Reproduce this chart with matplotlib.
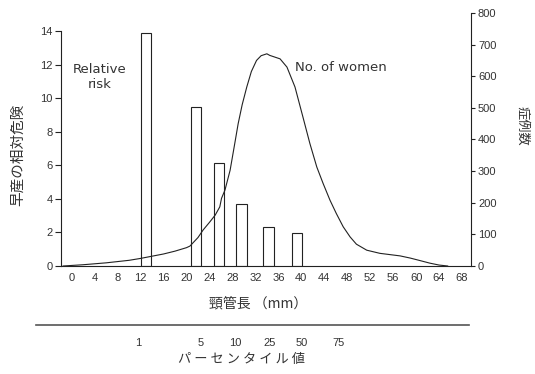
import numpy as np
import matplotlib.pyplot as plt

# relative risk of preterm birth by cervical length (bars)
bar_mm = [12.9, 21.7, 25.7, 29.6, 34.3, 39.3]
bar_risk = [13.9, 9.45, 6.15, 3.67, 2.34, 1.95]
BAR_W = 1.8

# number of women by cervical length (curve)
curve_mm = [-1.5, 2, 6, 10, 12, 16, 18, 20, 20.6, 22, 22.9, 24, 25, 25.8, 26.1,
            26.7, 27.6, 28.5, 29.0, 29.7, 30.5, 31.3, 32.2, 33.0, 34.0, 34.5,
            36.3, 37.5, 38.9, 40.3, 41.5, 42.7, 43.8, 45, 46.1, 47.3, 48.5,
            49.6, 51.4, 53.7, 57.2, 59, 60.5, 62.4, 64, 65.5]
curve_n = [0, 4, 10, 18, 24, 38, 47, 58, 63, 90, 114, 138, 161, 187, 214,
           240, 303, 397, 450, 510, 566, 615, 650, 665, 671, 666,
           655, 629, 566, 470, 387, 313, 261, 208, 166, 124, 92,
           69, 50, 40, 32, 25, 18, 9, 3, 0]

x_ticks = list(range(0, 69, 4))
pct_pos = [11.6, 22.4, 28.5, 34.5, 40.0, 46.4]
pct_labels = ["1", "5", "10", "25", "50", "75"]

INK = "#222222"
TXT = "#333333"
LAT = ["Liberation Sans", "DejaVu Sans"]
JP = ["Noto Sans CJK JP", "DejaVu Sans"]

plt.rcParams["font.family"] = LAT
plt.rcParams["font.size"] = 8

W, H = 535, 374
fig = plt.figure(figsize=(W / 100, H / 100), dpi=100)

# main axes
L, R, B, T = 61, 471, 266, 13
ax = fig.add_axes([L / W, 1 - B / H, (R - L) / W, (B - T) / H])
ax.bar(bar_mm, bar_risk, width=BAR_W, facecolor="white", edgecolor=INK,
       linewidth=0.8, zorder=2)
ax.set_xlim((L - 71.7) / 5.74, (R - 71.7) / 5.74)
ax.set_ylim(0, 14 * (B - T) / (B - 31))
ax.set_xticks(x_ticks)
ax.set_yticks(range(0, 15, 2))
ax.spines["top"].set_visible(False)
ax.spines["right"].set_visible(False)
ax.spines["left"].set_bounds(0, 14)
for s in ("left", "bottom"):
    ax.spines[s].set_color(INK)
    ax.spines[s].set_linewidth(0.8)
ax.tick_params(axis="y", length=4, width=0.8, pad=2, colors=INK, labelcolor=TXT)
ax.tick_params(axis="x", length=0, pad=5, labelcolor=TXT)

fig.text(18 / W, 1 - 155 / H, "早産の相対危険", family=JP, fontsize=10.5,
         color=TXT, rotation=90, ha="center", va="center")

ax.text(4.9, 11.26, "Relative\nrisk", ha="center", va="center", color=TXT,
        family="DejaVu Sans", fontsize=9.5, linespacing=1.25)
ax.text(38.9, 11.8, "No. of women", ha="left", va="center", color=TXT,
        family="DejaVu Sans", fontsize=9.5)

# right axes: number of women
ax2 = ax.twinx()
ax2.plot(curve_mm, curve_n, color=INK, linewidth=0.8, zorder=3)
ax2.set_ylim(0, 800)
ax2.set_yticks(range(0, 801, 100))
for s in ("top", "left", "bottom"):
    ax2.spines[s].set_visible(False)
ax2.spines["right"].set_color(INK)
ax2.spines["right"].set_linewidth(0.8)
ax2.tick_params(axis="y", length=3, width=0.8, pad=2, colors=INK, labelcolor=TXT)

fig.text(522 / W, 1 - 126 / H, "症例数", family=JP, fontsize=9.5,
         color=TXT, rotation=270, ha="center", va="center")

fig.text(258 / W, 1 - 304 / H, "頸管長 （mm）", family=JP, fontsize=10,
         color=TXT, ha="center", va="center")

# percentile scale
PL, PR, PY = 36, 469, 325
axp = fig.add_axes([PL / W, 1 - PY / H, (PR - PL) / W, 0.001])
axp.set_xlim((PL - 71.7) / 5.74, (PR - 71.7) / 5.74)
axp.set_xticks(pct_pos)
axp.set_xticklabels(pct_labels)
axp.set_yticks([])
for s in ("top", "left", "right"):
    axp.spines[s].set_visible(False)
axp.spines["bottom"].set_color("#555555")
axp.spines["bottom"].set_linewidth(1.2)
axp.tick_params(axis="x", length=0, pad=9, labelcolor=TXT)
axp.patch.set_visible(False)

fig.text(241 / W, 1 - 360 / H, " ".join("パーセンタイル値"), family=JP,
         fontsize=9.5, color=TXT, ha="center", va="center")

fig.savefig("out.png", dpi=100)
